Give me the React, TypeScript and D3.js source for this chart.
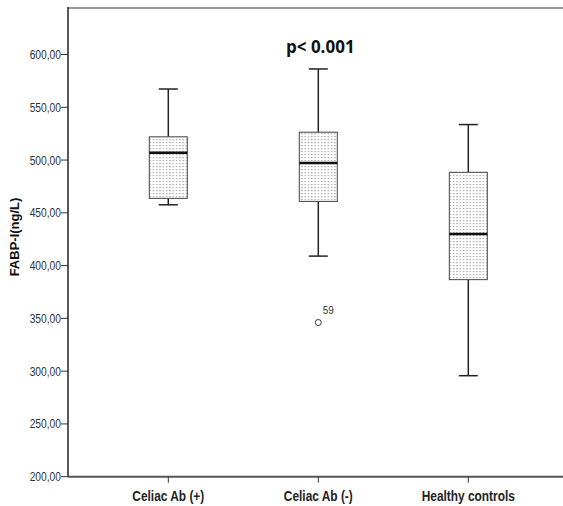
import React from "react";
import * as d3 from "d3";

const categories = ["Celiac Ab (+)", "Celiac Ab (-)", "Healthy controls"];
const whiskerLow = [457.6, 409.0, 295.7];
const q1 = [463.7, 460.8, 386.7];
const medians = [507.0, 497.2, 430.0];
const q3 = [522.0, 526.4, 488.4];
const whiskerHigh = [567.3, 586.3, 533.6];
const outlierGroup = ["Celiac Ab (-)"];
const outlierValue = [346.1];
const outlierLabel = ["59"];
const yTicks = [200, 250, 300, 350, 400, 450, 500, 550, 600];

const W = 563;
const H = 506;
const left = 68;
const top = 8;
const bottom = 476.7;

export default function App() {
  const y = d3.scaleLinear().domain([200, 600]).range([bottom, 54.5]);
  const x = d3.scaleBand().domain(categories).range([93.3, 543.3]).padding(0);
  const cx = (c: string) => (x(c) as number) + x.bandwidth() / 2;
  const boxW = 38;
  const capW = 19;
  const fmt = (v: number) => v.toFixed(2).replace(".", ",");
  const font = "'Liberation Sans', Arial, sans-serif";

  return (
    <svg width={W} height={H} style={{ position: "absolute", left: 0, top: 0, background: "#fff" }}>
      <defs>
        <pattern id="dots" width="3.3" height="3" patternUnits="userSpaceOnUse">
          <rect x="1" y="1" width="1.2" height="1.2" fill="#9a9a9a" />
        </pattern>
      </defs>
      <rect x={0} y={0} width={W} height={H} fill="#fff" />
      {/* frame */}
      <line x1={left} x2={W} y1={top} y2={top} stroke="#9a9a9a" strokeWidth={2} />
      <line x1={left} x2={left} y1={top - 1} y2={bottom} stroke="#222" strokeWidth={1.5} />
      <line x1={left} x2={W} y1={bottom} y2={bottom} stroke="#555" strokeWidth={2} />
      {/* y ticks */}
      {yTicks.map((t) => (
        <g key={t}>
          <line x1={left - 7} x2={left} y1={y(t)} y2={y(t)} stroke="#333" strokeWidth={1} />
          <g transform={`translate(${left - 7},${y(t) + 4.5}) scale(0.82,1)`}>
            <text x={0} y={0} textAnchor="end" fontFamily={font} fontSize={12.5} fill="#333">
              {fmt(t)}
            </text>
          </g>
        </g>
      ))}
      {/* x ticks */}
      {categories.map((c) => (
        <g key={c}>
          <line x1={cx(c)} x2={cx(c)} y1={bottom} y2={bottom + 6} stroke="#333" strokeWidth={1} />
          <g transform={`translate(${cx(c)},501) scale(0.85,1)`}>
            <text x={0} y={0} textAnchor="middle" fontFamily={font} fontWeight="bold" fontSize={14} fill="#222">
              {c}
            </text>
          </g>
        </g>
      ))}
      {/* y title */}
      <text
        transform={`translate(19,237) rotate(-90)`}
        textAnchor="middle"
        fontFamily={font}
        fontWeight="bold"
        fontSize={13}
        fill="#111"
      >
        FABP-I(ng/L)
      </text>
      {/* boxes */}
      {categories.map((c, i) => {
        const xc = cx(c);
        return (
          <g key={c}>
            <line x1={xc} x2={xc} y1={y(whiskerHigh[i])} y2={y(q3[i])} stroke="#222" strokeWidth={1.5} />
            <line x1={xc} x2={xc} y1={y(q1[i])} y2={y(whiskerLow[i])} stroke="#222" strokeWidth={1.5} />
            <line x1={xc - capW / 2} x2={xc + capW / 2} y1={y(whiskerHigh[i])} y2={y(whiskerHigh[i])} stroke="#222" strokeWidth={1.5} />
            <line x1={xc - capW / 2} x2={xc + capW / 2} y1={y(whiskerLow[i])} y2={y(whiskerLow[i])} stroke="#222" strokeWidth={1.5} />
            <rect x={xc - boxW / 2} y={y(q3[i])} width={boxW} height={y(q1[i]) - y(q3[i])} fill="#fff" />
            <rect x={xc - boxW / 2} y={y(q3[i])} width={boxW} height={y(q1[i]) - y(q3[i])} fill="url(#dots)" stroke="#444" strokeWidth={1} />
            <line x1={xc - boxW / 2} x2={xc + boxW / 2} y1={y(medians[i])} y2={y(medians[i])} stroke="#111" strokeWidth={2.5} />
          </g>
        );
      })}
      {/* outliers */}
      {outlierGroup.map((g, i) => (
        <g key={i}>
          <circle cx={cx(g)} cy={y(outlierValue[i])} r={3} fill="none" stroke="#333" strokeWidth={1} />
          <text x={cx(g) + 4.5} y={y(outlierValue[i]) - 8} fontFamily={font} fontSize={10} fill="#333">
            {outlierLabel[i]}
          </text>
        </g>
      ))}
      {/* p-value */}
      <text x={286} y={53} fontFamily="'Open Sans', 'Liberation Sans', sans-serif" fontWeight="bold" fontSize={17} fill="#111">
        p&lt; 0.001
      </text>
    </svg>
  );
}
